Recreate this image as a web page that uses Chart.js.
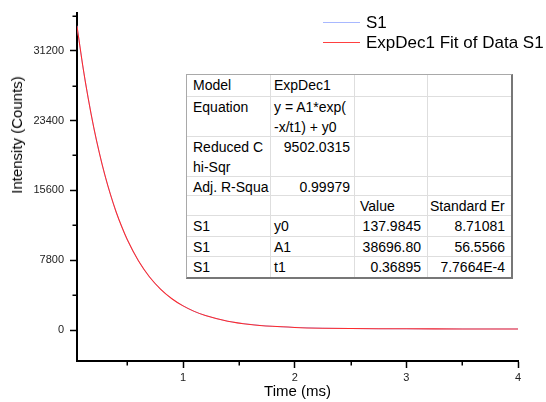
<!DOCTYPE html>
<html><head><meta charset="utf-8">
<script src="https://cdn.jsdelivr.net/npm/chart.js@4"></script>
<style>
html,body{margin:0;padding:0;background:#fff;}
#wrap{position:relative;width:546px;height:402px;overflow:hidden;font-family:"Liberation Sans",Arial,sans-serif;}
canvas{position:absolute;left:0;top:0;}
.ov{position:absolute;white-space:nowrap;color:#000;}
.cell{position:absolute;box-sizing:border-box;overflow:hidden;white-space:pre;font-size:14px;line-height:20px;color:#000;}
</style></head><body>
<div id="wrap"><canvas id="c" width="546" height="402"></canvas></div>
<script>
// ---- data ----
const timeMs    = [0.05,0.1,0.15,0.2,0.25,0.3,0.35,0.4,0.45,0.5,0.6,0.7,0.8,0.9,1.0,1.1,1.2,1.4,1.6,1.8,2.0,2.25,2.5,2.75,3.0,3.25,3.5,3.75,4.0];
const s1Counts  = [33990,29610,25950,22600,19810,17270,15150,13200,11590,10100,7760,5930,4570,3500,2720,2095,1640,1000,650,428,312,220,185,158,151,142,139,140,137];
const fitCounts = [33931,29649,25908,22642,19790,17299,15124,13224,11566,10118,7749,5941,4564,3513,2712,2101,1635,1008,644,432,309,225,182,160,149,144,141,140,139];
const seriesNames = ['S1','ExpDec1 Fit of Data S1'];
const xTickValues = [1,2,3,4];
const xTickLabels = ['1','2','3','4'];
const xMinorTicks = [0.5,1.5,2.5,3.5];
const yTickValues = [0,7800,15600,23400,31200];
const yTickLabels = ['0','7800','15600','23400','31200'];
const yMinorTicks = [3900,11700,19500,27300,35100];
const xTitle = 'Time (ms)';
const yTitle = 'Intensity (Counts)';
const tableRows = [
  ['Model','ExpDec1','',''],
  ['Equation','y = A1*exp(\n-x/t1) + y0','',''],
  ['Reduced C\nhi-Sqr','9502.0315','',''],
  ['Adj. R-Squa','0.99979','',''],
  ['','','Value','Standard Er'],
  ['S1','y0','137.9845','8.71081'],
  ['S1','A1','38696.80','56.5566'],
  ['S1','t1','0.36895','7.7664E-4']
];

const FONT = '"Liberation Sans", Arial, sans-serif';
const wrap = document.getElementById('wrap');

// ---- fit table overlay ----
(function(){
  const colW = [84,84,73,83];
  const rowH = [22,40,40,19,20,21,20,20];
  const padL = [6,3,5,2];
  const padR = [6,4,6,6];
  const box = document.createElement('div');
  const W = colW.reduce((a,b)=>a+b,0), H = rowH.reduce((a,b)=>a+b,0);
  box.style.cssText = `position:absolute;left:186px;top:74px;width:${W}px;height:${H}px;border-top:1px solid #a9a9a9;border-left:1px solid #a9a9a9;border-right:2px solid #777;border-bottom:2px solid #777;background:#fff;`;
  let y = 0;
  tableRows.forEach((row,r)=>{
    let x = 0;
    row.forEach((txt,c)=>{
      const d = document.createElement('div');
      d.className = 'cell';
      const isNum = /^-?[\d.]+(E-?\d+)?$/.test(txt);
      d.style.left = x+'px'; d.style.top = y+'px';
      d.style.width = colW[c]+'px'; d.style.height = rowH[r]+'px';
      if (c < colW.length-1) d.style.borderRight = '1px solid #dedede';
      if (r < rowH.length-1) d.style.borderBottom = '1px solid #dedede';
      d.style.textAlign = isNum ? 'right' : 'left';
      d.style.paddingLeft = padL[c]+'px';
      d.style.paddingRight = padR[c]+'px';
      d.textContent = txt;
      box.appendChild(d);
      x += colW[c];
    });
    y += rowH[r];
  });
  wrap.appendChild(box);
})();

// ---- legend overlay ----
(function(){
  const colors = ['#a8b8ff','#ff4040'];
  const ys = [22,42];
  seriesNames.forEach((name,i)=>{
    const l = document.createElement('div');
    l.className='ov';
    l.style.cssText += `left:323px;top:${ys[i]}px;width:37px;height:1px;background:${colors[i]};`;
    wrap.appendChild(l);
    const t = document.createElement('div');
    t.className='ov';
    t.style.cssText += `left:366px;top:${ys[i]-9}px;font-size:17px;line-height:20px;`;
    t.textContent = name;
    wrap.appendChild(t);
  });
  const yt = document.createElement('div');
  yt.className='ov';
  yt.style.cssText += 'left:17px;top:135px;font-size:15px;line-height:18px;transform:translate(-50%,-50%) rotate(-90deg);';
  yt.textContent = yTitle;
  wrap.appendChild(yt);
})();

// ---- minor ticks ----
const minorTicks = {
  id:'minorTicks',
  afterDraw(chart){
    const {ctx, chartArea:a, scales:{x,y}} = chart;
    ctx.save();
    ctx.strokeStyle = '#000'; ctx.lineWidth = 1.5;
    ctx.beginPath();
    xMinorTicks.forEach(v=>{const px = Math.round(x.getPixelForValue(v))+0.25; ctx.moveTo(px,a.bottom); ctx.lineTo(px,a.bottom+4.5);});
    yMinorTicks.forEach(v=>{const py = Math.round(y.getPixelForValue(v))+0.25; ctx.moveTo(a.left,py); ctx.lineTo(a.left-4.5,py);});
    ctx.stroke();
    ctx.restore();
  }
};

new Chart(document.getElementById('c'), {
  type:'line',
  data:{
    datasets:[
      {label:seriesNames[1], data: timeMs.map((x,i)=>({x, y: fitCounts[i]})), borderColor:'#ff2a2a', borderWidth:1.05, pointRadius:0, cubicInterpolationMode:'monotone', order:1},
      {label:seriesNames[0], data: timeMs.map((x,i)=>({x, y: s1Counts[i]})), borderColor:'#a8b8ff', borderWidth:1, pointRadius:0, cubicInterpolationMode:'monotone', order:2}
    ]
  },
  options:{
    responsive:false, animation:false, devicePixelRatio:1,
    layout:{padding:{left:0, top:7, right:28, bottom:0}},
    plugins:{legend:{display:false}, tooltip:{enabled:false}},
    scales:{
      x:{
        type:'linear', min:0.05, max:4,
        afterBuildTicks:s=>{ s.ticks = xTickValues.map(v=>({value:v})); },
        afterFit:s=>{ s.height = 41; },
        ticks:{callback:(v,i)=>xTickLabels[i], font:{family:FONT,size:11}, color:'#222', padding:3, maxRotation:0, autoSkip:false},
        grid:{drawOnChartArea:false, tickLength:7, tickColor:'#000', tickWidth:1.5},
        border:{color:'#000', width:2},
        title:{display:true, text:xTitle, font:{family:FONT,size:15}, color:'#000', padding:{top:0,bottom:1}}
      },
      y:{
        type:'linear', min:-3440, max:35450,
        afterBuildTicks:s=>{ s.ticks = yTickValues.map(v=>({value:v})); },
        afterFit:s=>{ s.width = 77; },
        ticks:{callback:(v,i)=>yTickLabels[i], font:{family:FONT,size:11}, color:'#222', padding:6, autoSkip:false},
        grid:{drawOnChartArea:false, tickLength:7, tickColor:'#000', tickWidth:1.5},
        border:{color:'#000', width:2},
        title:{display:false}
      }
    }
  },
  plugins:[minorTicks]
});
</script>
</body></html>
